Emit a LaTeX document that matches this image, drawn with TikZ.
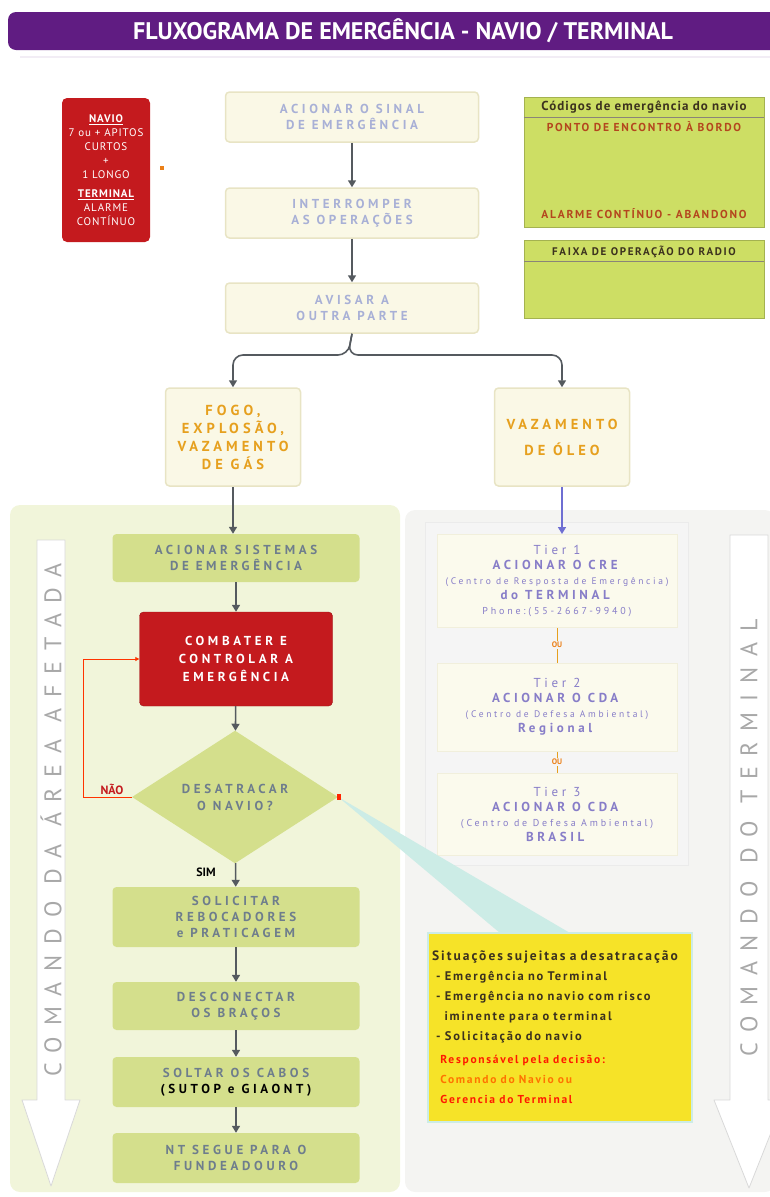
\documentclass[tikz,border=0pt]{standalone}
\usepackage{fontspec}
\setmainfont{PT Sans}
\newfontfamily\leve[LetterSpace=8]{PT Sans}
\newfontfamily\spaced[LetterSpace=15]{PT Sans}
\newfontfamily\largo[LetterSpace=28]{PT Sans}
\newfontfamily\wide[LetterSpace=45]{PT Sans}
\usetikzlibrary{shapes.geometric,arrows.meta,positioning}

\definecolor{roxo}{RGB}{96,28,130}
\definecolor{creme}{RGB}{250,248,230}
\definecolor{cremeborda}{RGB}{232,228,196}
\definecolor{azulclaro}{RGB}{168,176,214}
\definecolor{laranja}{RGB}{230,160,30}
\definecolor{verdecodigo}{RGB}{205,222,100}
\definecolor{textocodigo}{RGB}{60,50,30}
\definecolor{ferrugem}{RGB}{180,70,30}
\definecolor{vermelho}{RGB}{196,26,30}
\definecolor{verdefundo}{RGB}{241,245,218}
\definecolor{cinzafundo}{RGB}{244,244,242}
\definecolor{verdepasso}{RGB}{212,223,140}
\definecolor{textopasso}{RGB}{110,125,140}
\definecolor{cinzaseta}{RGB}{85,90,95}
\definecolor{azulseta}{RGB}{110,110,210}
\definecolor{lilas}{RGB}{135,125,200}
\definecolor{amarelo}{RGB}{246,227,40}
\definecolor{cinzatexto}{RGB}{168,168,168}
\definecolor{turquesa}{RGB}{204,236,230}

\begin{document}
\begin{tikzpicture}[x=1pt,y=-1pt,
  etapa/.style={rectangle, rounded corners=4pt, fill=creme, draw=cremeborda, line width=1.5pt,
    minimum width=253pt, minimum height=50pt, align=center, text=azulclaro,
    font=\largo\bfseries\fontsize{13}{16}\selectfont},
  evento/.style={etapa, minimum width=135pt, minimum height=98pt, text=laranja,
    font=\largo\bfseries\fontsize{14.5}{18}\selectfont},
  passo/.style={rectangle, rounded corners=4pt, fill=verdepasso, minimum width=247pt,
    minimum height=48pt, align=center, text=textopasso,
    font=\largo\bfseries\fontsize{13}{16}\selectfont},
  critico/.style={passo, fill=vermelho, draw=vermelho!80!black, minimum width=193pt,
    minimum height=94pt, text=white, font=\largo\bfseries\fontsize{13}{18}\selectfont},
  decisao/.style={diamond, fill=verdepasso, inner sep=0pt, minimum width=206pt,
    minimum height=121pt, align=center, text=textopasso,
    font=\largo\bfseries\fontsize{13}{17}\selectfont},
  nivel/.style={rectangle, fill=creme!70!white, draw=cremeborda!60!white, line width=1pt,
    minimum width=240pt, align=center, text=lilas, font=\largo\fontsize{13}{15}\selectfont},
  codigo/.style={rectangle, fill=verdecodigo, draw=verdecodigo!80!black, line width=0.4pt,
    minimum width=240pt},
  cabecalho/.style={text=textocodigo, font=\leve\bfseries\fontsize{13}{15}\selectfont},
  alerta/.style={text=ferrugem, font=\spaced\bfseries\fontsize{11.5}{13}\selectfont},
  ou/.style={text=laranja!80!red, font=\bfseries\fontsize{8}{9}\selectfont, inner sep=1pt},
  rotulo/.style={text=cinzatexto, font=\wide\fontsize{24}{28}\selectfont},
  seta/.style={-{Triangle[length=7pt,width=8pt]}, line width=1.6pt, draw=cinzaseta},
  faixa/.style={fill=white, draw=black!15, line width=0.8pt, line join=round}]

\useasboundingbox (0,0) rectangle (770,1197);

% cabecalho
\fill[roxo] (770,12) [rounded corners=8pt] -- (8,12) -- (8,50) [sharp corners] -- (770,50) -- cycle;
\node[text=white, font=\bfseries\fontsize{24}{26}\selectfont] (titulo) at (403,31) {FLUXOGRAMA DE EMERGÊNCIA - NAVIO / TERMINAL};
\draw[roxo!8, line width=2pt] (20,57) -- (770,57);

% sinais sonoros
\node[rectangle, rounded corners=5pt, fill=vermelho, minimum width=88pt, minimum height=144pt,
  align=center, text=white, font=\leve\fontsize{11}{14}\selectfont] (apitos) at (106,170)
  {\textbf{\underline{NAVIO}}\\7 ou + APITOS\\CURTOS\\+\\1 LONGO\\[5pt]\textbf{\underline{TERMINAL}}\\ALARME\\CONTÍNUO};
\fill[laranja!80!red] (160,166) rectangle (164,170);

% passos iniciais
\node[etapa] (sinal) at (352,117) {ACIONAR O SINAL\\DE EMERGÊNCIA};
\node[etapa] (interromper) at (352,213) {INTERROMPER\\AS OPERAÇÕES};
\node[etapa] (avisar) at (352,308) {AVISAR A\\OUTRA PARTE};
\draw[seta] (sinal) -- (interromper);
\draw[seta] (interromper) -- (avisar);

% codigos
\node[codigo, minimum height=130pt] (codigos) at (644,162) {};
\node[cabecalho, below=1pt of codigos.north] (codtitulo) {Códigos de emergência do navio};
\draw[textocodigo!60, line width=0.6pt] (codigos.west |- codtitulo.south) -- (codigos.east |- codtitulo.south);
\node[alerta, below=1pt of codtitulo] (ponto) {PONTO DE ENCONTRO À BORDO};
\node[alerta, above=5pt of codigos.south] (abandono) {ALARME CONTÍNUO - ABANDONO};
\node[codigo, minimum height=78pt] (radio) at (644,279) {};
\node[cabecalho, font=\spaced\bfseries\fontsize{11}{13}\selectfont, below=3pt of radio.north] (radiotitulo) {FAIXA DE OPERAÇÃO DO RADIO};
\draw[textocodigo!60, line width=0.6pt] (radio.west |- radiotitulo.south) -- (radio.east |- radiotitulo.south);

% tipos de emergencia
\node[evento] (fogo) at (233,437) {FOGO,\\EXPLOSÃO,\\VAZAMENTO\\DE GÁS};
\node[evento] (oleo) at (562,437) {VAZAMENTO\\[8pt]DE ÓLEO};
\draw[seta, rounded corners=10pt] (avisar.south) -- (348,355) -| (fogo.north);
\draw[seta, rounded corners=10pt] (avisar.south) -- (348,355) -| (oleo.north);

% areas de comando
\fill[verdefundo, rounded corners=10pt] (10,505) rectangle (400,1192);
\fill[cinzafundo, rounded corners=10pt] (405,510) rectangle (775,1192);
\draw[faixa] (37,540) -- (65,540) -- (65,1100) -- (80,1100) -- (51,1186) -- (22,1100) -- (37,1100) -- cycle;
\node[rotulo, rotate=90] (comandoarea) at (51,820) {COMANDO DA ÁREA AFETADA};
\begin{scope}
\clip (0,0) rectangle (770,1197);
\draw[faixa] (730,535) -- (768,535) -- (768,1100) -- (784,1100) -- (749,1188) -- (714,1100) -- (730,1100) -- cycle;
\end{scope}
\node[rotulo, rotate=90] (comandoterminal) at (749,838) {COMANDO DO TERMINAL};

% lado do navio
\node[passo] (sistemas) at (236,558) {ACIONAR SISTEMAS\\DE EMERGÊNCIA};
\node[critico] (combate) at (236,659) {COMBATER E\\CONTROLAR A\\EMERGÊNCIA};
\node[decisao] (desatracar) at (235,797) {DESATRACAR\\O NAVIO?};
\node[passo, minimum height=60pt] (solicitar) at (236,917) {SOLICITAR\\REBOCADORES\\e PRATICAGEM};
\node[passo] (desconectar) at (236,1006) {DESCONECTAR\\OS BRAÇOS};
\node[passo, minimum height=50pt] (soltar) at (236,1082) {SOLTAR OS CABOS\\{\color{black}(SUTOP e GIAONT)}};
\node[passo, minimum height=50pt] (fundeadouro) at (236,1158) {NT SEGUE PARA O\\FUNDEADOURO};
\draw[seta] (fogo.south) -- (fogo.south |- sistemas.north);
\draw[seta] (sistemas) -- (combate);
\draw[seta] (combate) -- (desatracar);
\draw[seta] (desatracar) -- (solicitar);
\draw[seta] (solicitar) -- (desconectar);
\draw[seta] (desconectar) -- (soltar);
\draw[seta] (soltar) -- (fundeadouro);
\draw[red!60!orange, line width=0.8pt, -{Triangle[length=4pt,width=4pt]}] (desatracar.west) -- ++(-48,0) |- (combate.west);
\node[text=vermelho, font=\bfseries\fontsize{12}{14}\selectfont, fill=verdefundo, inner sep=1pt] (nao) at (112,789) {NÃO};
\node[font=\bfseries\fontsize{12}{14}\selectfont] (sim) at (206,872) {SIM};

% lado do terminal
\draw[fill=black!4, draw=black!8] (425,522) rectangle (688,865);
\node[nivel, minimum height=93pt] (tier1) at (557,581)
  {Tier 1\\\textbf{ACIONAR O CRE}\\{\fontsize{9.5}{12}\selectfont(Centro de Resposta de Emergência)}\\\textbf{do TERMINAL}\\{\fontsize{10}{12}\selectfont Phone:(55-2667-9940)}};
\node[ou] (ou1) at (557,645) {OU};
\node[nivel, minimum height=88pt] (tier2) at (557,707)
  {Tier 2\\\textbf{ACIONAR O CDA}\\{\fontsize{9.5}{12}\selectfont(Centro de Defesa Ambiental)}\\\textbf{Regional}};
\node[ou] (ou2) at (557,762) {OU};
\node[nivel, minimum height=82pt] (tier3) at (557,814)
  {Tier 3\\\textbf{ACIONAR O CDA}\\{\fontsize{10}{12}\selectfont(Centro de Defesa Ambiental)}\\\textbf{BRASIL}};
\draw[seta, draw=azulseta] (oleo.south) -- (oleo.south |- tier1.north);
\draw[laranja, line width=0.6pt] (tier1) -- (ou1) -- (tier2);
\draw[laranja, line width=0.6pt] (tier2) -- (ou2) -- (tier3);

% situacoes de desatracacao
\fill[turquesa] (desatracar.east) -- (500,933) -- (570,933) -- cycle;
\fill[red!70!orange] (desatracar.east) ++(-1,-3) rectangle ++(4,6);
\node[rectangle, fill=amarelo, draw=turquesa, line width=2pt, minimum width=264pt, minimum height=189pt,
  text width=256pt, align=left, font=\spaced\bfseries\fontsize{12.5}{20}\selectfont, text=textocodigo] (situacoes) at (560,1027)
  {{\fontsize{13.5}{22}\selectfont Situações sujeitas a desatracação}\\
   \ - Emergência no Terminal\\
   \ - Emergência no navio com risco\\
   \ \ \ iminente para o terminal\\
   \ - Solicitação do navio\\[3pt]
   \ \ {\fontsize{11.5}{19}\selectfont\color{red!80!orange}Responsável pela decisão:}\\
   \ \ {\fontsize{11.5}{19}\selectfont\color{orange!90!red}Comando do Navio ou}\\
   \ \ {\fontsize{11.5}{19}\selectfont\color{red!80!orange}Gerencia do Terminal}};

\end{tikzpicture}
\end{document}
